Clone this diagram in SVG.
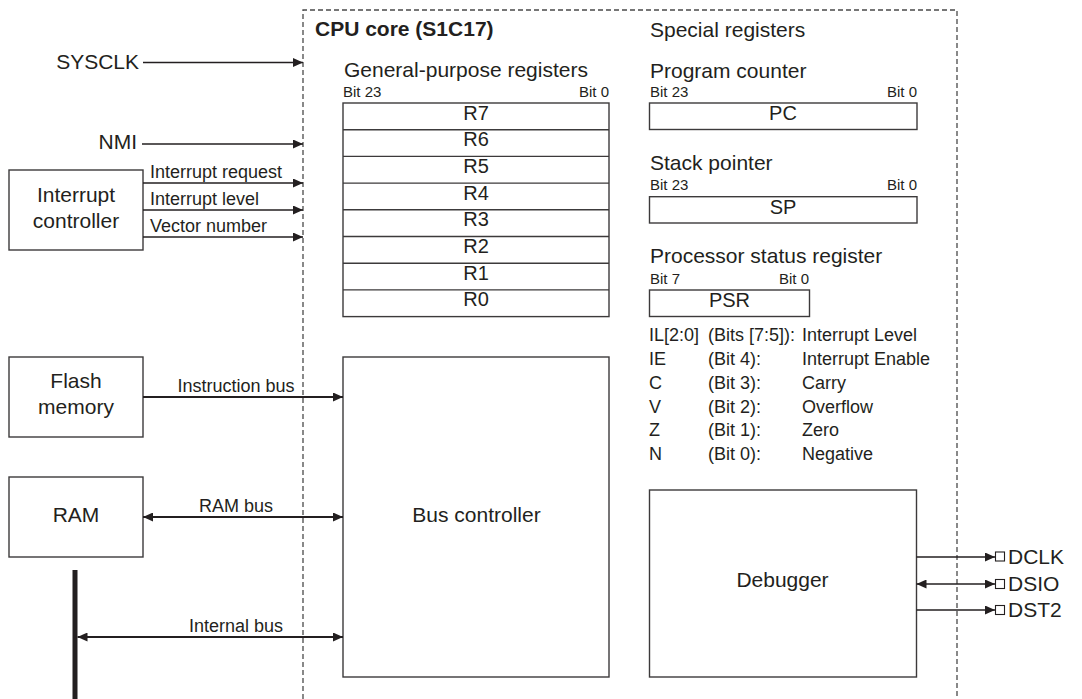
<svg xmlns="http://www.w3.org/2000/svg" width="1082" height="699" viewBox="0 0 1082 699">
<defs>
<style>
text{font-family:"Liberation Sans",Arial,sans-serif;fill:#231f20}
.m{font-size:21px}
.r{font-size:20px}
.l{font-size:18px}
.s{font-size:15px}
.b{font-size:21px;font-weight:bold}
.c{text-anchor:middle}
.e{text-anchor:end}
.box{fill:#fff;stroke:#3c3a3b;stroke-width:1.4}
.sig{stroke:#231f20;stroke-width:1.3;fill:none}
.bus{stroke:#231f20;stroke-width:2.2;fill:none}
.dash{stroke:#4a4a4a;stroke-width:1.3;fill:none;stroke-dasharray:5 3}
</style>
<marker id="ah" markerUnits="userSpaceOnUse" markerWidth="10" markerHeight="9" refX="10" refY="4.5" orient="auto-start-reverse" viewBox="0 0 10 9">
<path d="M0,0 L10,4.5 L0,9 z" fill="#231f20"/>
</marker>
</defs>
<rect width="1082" height="699" fill="#fff"/>

<g id="cpu-core">
<path class="dash" d="M303,699 V10 H957 V699"/>
<text class="b" x="315" y="36">CPU core (S1C17)</text>
</g>

<g id="signals-left">
<text class="m e" x="139" y="69">SYSCLK</text>
<text class="m e" x="137" y="149">NMI</text>
</g>

<g id="interrupt-controller">
<rect class="box" x="9" y="170" width="134" height="80"/>
<text class="m c" x="76" y="202">Interrupt</text>
<text class="m c" x="76" y="228">controller</text>
</g>

<g id="flash-memory">
<rect class="box" x="9" y="357" width="134" height="80"/>
<text class="m c" x="76" y="388">Flash</text>
<text class="m c" x="76" y="414">memory</text>
</g>

<g id="ram">
<rect class="box" x="9" y="477" width="134" height="80"/>
<text class="m c" x="76" y="522">RAM</text>
</g>

<g id="internal-bus-bar">
<rect x="72.5" y="570" width="5" height="129" fill="#231f20"/>
</g>

<g id="general-purpose-registers">
<text class="m" x="344" y="77">General-purpose registers</text>
<text class="s" x="343" y="97">Bit 23</text>
<text class="s e" x="609" y="97">Bit 0</text>
<rect class="box" x="343" y="103" width="266" height="213.6"/>
<path class="box" d="M343,129.7 H609 M343,156.4 H609 M343,183.1 H609 M343,209.8 H609 M343,236.5 H609 M343,263.2 H609 M343,289.9 H609"/>
<text class="r c" x="476" y="119.5">R7</text>
<text class="r c" x="476" y="146.2">R6</text>
<text class="r c" x="476" y="172.9">R5</text>
<text class="r c" x="476" y="199.6">R4</text>
<text class="r c" x="476" y="226.3">R3</text>
<text class="r c" x="476" y="253">R2</text>
<text class="r c" x="476" y="279.7">R1</text>
<text class="r c" x="476" y="306.4">R0</text>
</g>

<g id="special-registers">
<text class="m" x="650" y="37">Special registers</text>
</g>

<g id="program-counter">
<text class="m" x="650" y="78">Program counter</text>
<text class="s" x="650" y="97">Bit 23</text>
<text class="s e" x="917" y="97">Bit 0</text>
<rect class="box" x="649.5" y="103" width="267.5" height="26.5"/>
<text class="r c" x="783" y="120">PC</text>
</g>

<g id="stack-pointer">
<text class="m" x="650" y="170">Stack pointer</text>
<text class="s" x="650" y="190">Bit 23</text>
<text class="s e" x="917" y="190">Bit 0</text>
<rect class="box" x="649.5" y="196.7" width="267.5" height="26.3"/>
<text class="r c" x="783" y="213.5">SP</text>
</g>

<g id="processor-status-register">
<text class="m" x="650" y="263">Processor status register</text>
<text class="s" x="650" y="283.5">Bit 7</text>
<text class="s e" x="809" y="283.5">Bit 0</text>
<rect class="box" x="649.5" y="290" width="160" height="26.5"/>
<text class="r c" x="729.5" y="307">PSR</text>
<text class="l" x="649" y="341">IL[2:0]</text>
<text class="l" x="708" y="341">(Bits [7:5]):</text>
<text class="l" x="802" y="341">Interrupt Level</text>
<text class="l" x="649" y="365">IE</text>
<text class="l" x="708" y="365">(Bit 4):</text>
<text class="l" x="802" y="365">Interrupt Enable</text>
<text class="l" x="649" y="389">C</text>
<text class="l" x="708" y="389">(Bit 3):</text>
<text class="l" x="802" y="389">Carry</text>
<text class="l" x="649" y="413">V</text>
<text class="l" x="708" y="413">(Bit 2):</text>
<text class="l" x="802" y="413">Overflow</text>
<text class="l" x="649" y="436">Z</text>
<text class="l" x="708" y="436">(Bit 1):</text>
<text class="l" x="802" y="436">Zero</text>
<text class="l" x="649" y="460">N</text>
<text class="l" x="708" y="460">(Bit 0):</text>
<text class="l" x="802" y="460">Negative</text>
</g>

<g id="bus-controller">
<rect class="box" x="343" y="357" width="266" height="320"/>
<text class="m c" x="476.5" y="522">Bus controller</text>
</g>

<g id="debugger">
<rect class="box" x="649.5" y="490" width="267" height="187"/>
<text class="m c" x="782.5" y="587">Debugger</text>
</g>

<g id="pins">
<rect x="995.5" y="552" width="9" height="9" fill="#fff" stroke="#231f20" stroke-width="1.1"/>
<rect x="995.5" y="579.5" width="9" height="9" fill="#fff" stroke="#231f20" stroke-width="1.1"/>
<rect x="995.5" y="605.5" width="9" height="9" fill="#fff" stroke="#231f20" stroke-width="1.1"/>
<text class="m" x="1008" y="564">DCLK</text>
<text class="m" x="1008" y="591">DSIO</text>
<text class="m" x="1008" y="617">DST2</text>
</g>

<g id="connectors">
<line class="sig" x1="143" y1="62.5" x2="303" y2="62.5" marker-end="url(#ah)"/>
<line class="sig" x1="142" y1="144" x2="303" y2="144" marker-end="url(#ah)"/>
<line class="sig" x1="143" y1="183" x2="303" y2="183" marker-end="url(#ah)"/>
<line class="sig" x1="143" y1="210" x2="303" y2="210" marker-end="url(#ah)"/>
<line class="sig" x1="143" y1="237" x2="303" y2="237" marker-end="url(#ah)"/>
<text class="l" x="150" y="178">Interrupt request</text>
<text class="l" x="150" y="205">Interrupt level</text>
<text class="l" x="150" y="232">Vector number</text>
<line class="bus" x1="143" y1="397" x2="343" y2="397" marker-end="url(#ah)"/>
<text class="l c" x="236" y="392">Instruction bus</text>
<line class="bus" x1="143" y1="517" x2="343" y2="517" marker-start="url(#ah)" marker-end="url(#ah)"/>
<text class="l c" x="236" y="512">RAM bus</text>
<line class="bus" x1="77.5" y1="637" x2="343" y2="637" marker-start="url(#ah)" marker-end="url(#ah)"/>
<text class="l c" x="236" y="632">Internal bus</text>
<line class="sig" x1="916.5" y1="557" x2="995" y2="557" marker-end="url(#ah)"/>
<line class="sig" x1="916.5" y1="584" x2="995" y2="584" marker-start="url(#ah)" marker-end="url(#ah)"/>
<line class="sig" x1="916.5" y1="610" x2="995" y2="610" marker-end="url(#ah)"/>
</g>
</svg>
